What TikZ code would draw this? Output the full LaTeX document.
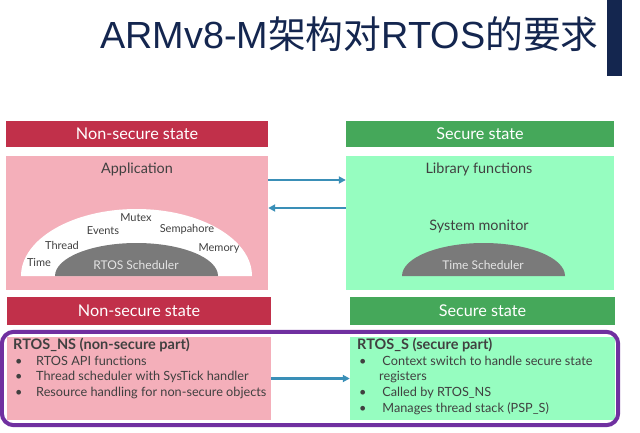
\documentclass[tikz,border=0pt]{standalone}
\usepackage{fontspec}
\usetikzlibrary{arrows.meta}
\setmainfont{Lato}
\newfontfamily\titlefont{Liberation Sans}
\newfontfamily\cjk{Noto Sans CJK SC}

\definecolor{navy}{HTML}{14264F}
\definecolor{nsred}{HTML}{C1304A}
\definecolor{nspink}{HTML}{F4AFBA}
\definecolor{sgreen}{HTML}{45A85A}
\definecolor{smint}{HTML}{96FDC0}
\definecolor{domegray}{HTML}{7A7A7A}
\definecolor{arrowblue}{HTML}{3A8FB7}
\definecolor{framepurple}{HTML}{7030A0}
\definecolor{bodytext}{HTML}{404040}

\newcommand{\bul}[1][21pt]{\makebox[#1][l]{\textbullet}}

\begin{document}
\begin{tikzpicture}[x=1pt,y=-1pt]

        \useasboundingbox (0,0) rectangle (640,433);

        % title
        \node[anchor=base west, inner sep=0, text=navy] (title) at (100,49)
          {\titlefont\fontsize{37.8}{40}\selectfont ARMv8-M{\cjk 架构对}RTOS{\cjk 的要求}};
        \fill[navy] (607,0) rectangle (622,76);

        % boxes
        \begin{scope}[every node/.style={rectangle, inner sep=0, font=\fontsize{16.2}{18}\selectfont}]
          \node[fill=nsred, text=white, minimum width=262, minimum height=26] (nshead) at (137,134) {Non-secure state};
          \node[fill=nspink, minimum width=262, minimum height=134] (app) at (137,223) {};
          \node[fill=sgreen, text=white, minimum width=268, minimum height=26] (shead) at (480,134) {Secure state};
          \node[fill=smint, minimum width=268, minimum height=134] (lib) at (480,223) {};
          \node[fill=nsred, text=white, minimum width=264, minimum height=28] (nshead2) at (139,311) {Non-secure state};
          \node[fill=nspink, minimum width=264, minimum height=83] (nsbox) at (139,378.5) {};
          \node[fill=sgreen, text=white, minimum width=265, minimum height=28] (shead2) at (482.5,311) {Secure state};
          \node[fill=smint, minimum width=265, minimum height=83] (sbox) at (482.5,378.5) {};
        \end{scope}

        % domes
        \fill[white] (21,276) arc[start angle=180, end angle=360, x radius=115.5, y radius=67] -- cycle;
        \fill[domegray] (55,276) arc[start angle=180, end angle=360, x radius=81.5, y radius=33] -- cycle;
        \fill[domegray] (402,276) arc[start angle=180, end angle=360, x radius=81.5, y radius=33] -- cycle;

        \begin{scope}[every node/.style={inner sep=0, text=bodytext, font=\fontsize{14.4}{16}\selectfont}]
          \node (apptxt) at (137,169) {Application};
          \node (libtxt) at (479,169) {Library functions};
          \node (montxt) at (479,226) {System monitor};
        \end{scope}

        \begin{scope}[every node/.style={inner sep=0, text=bodytext, font=\fontsize{11}{13}\selectfont}]
          \node (mutex)  at (136,218) {Mutex};
          \node (events) at (103,231) {Events};
          \node (sema)   at (187,229) {Sempahore};
          \node (thread) at (62,245)  {Thread};
          \node (memory) at (219,249) {Memory};
          \node (time)   at (39,263)  {Time};
          \node[text=white!90!black, font=\fontsize{12}{14}\selectfont] (rsched) at (136,265) {RTOS Scheduler};
          \node[text=white!90!black, font=\fontsize{12}{14}\selectfont] (tsched) at (483,265) {Time Scheduler};
        \end{scope}

        % part descriptions
        \begin{scope}[every node/.style={anchor=west, inner sep=0, text=bodytext, font=\fontsize{12.7}{14}\selectfont}]
          \node[font=\fontsize{14.5}{16}\selectfont\bfseries] (nstitle) at (13,345) {RTOS\_NS (non-secure part)};
          \node (ns1) at (15,361) {\bul RTOS API functions};
          \node (ns2) at (15,377) {\bul Thread scheduler with SysTick handler};
          \node (ns3) at (15,393) {\bul Resource handling for non-secure objects};
          \node[font=\fontsize{14.5}{16}\selectfont\bfseries] (stitle) at (357,345) {RTOS\_S (secure part)};
          \node (s1) at (359,361) {\bul[20pt] Context switch to handle secure state};
          \node (s1b) at (379,377) {registers};
          \node (s2) at (359,393) {\bul[20pt] Called by RTOS\_NS};
          \node (s3) at (359,409) {\bul[20pt] Manages thread stack (PSP\_S)};
        \end{scope}

        % frame round both parts
        \draw[framepurple, line width=4pt, rounded corners=12pt]
          ([xshift=-5pt,yshift=5pt]nsbox.north west) rectangle ([xshift=3pt,yshift=-5pt]sbox.south east);

        % calls between the states
        \begin{scope}[every edge/.style={draw=arrowblue, line width=2.5pt, -{Triangle[length=7pt,width=7pt]}}]
          \path ([yshift=43pt]app.east) edge ([yshift=43pt]lib.west);
          \path ([yshift=15pt]lib.west) edge ([yshift=15pt]app.east);
          \path (nsbox.east) edge (sbox.west);
        \end{scope}

      \end{tikzpicture}
\end{document}
